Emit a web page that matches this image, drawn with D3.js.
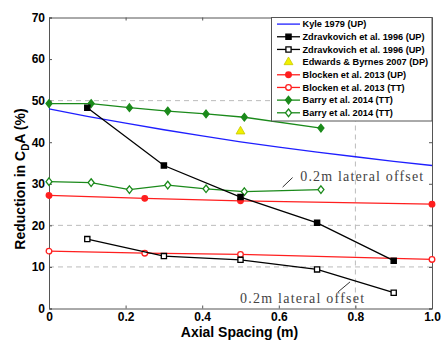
<!DOCTYPE html>
<html>
<head>
<meta charset="utf-8">
<script src="https://cdn.jsdelivr.net/npm/d3@7"></script>
<style>
  body { margin: 0; background: #fff; }
  svg { display: block; }
</style>
</head>
<body>
<div id="chart"></div>
<script>
// data
var kyleX = [0, 0.1, 0.2, 0.3, 0.4, 0.5, 0.6, 0.7, 0.8, 0.9, 1.0];
var kyleY = [48.0, 46.2, 44.6, 43.0, 41.5, 40.1, 38.8, 37.6, 36.5, 35.4, 34.4];

var zdravX = [0.1, 0.3, 0.5, 0.7, 0.9];
var zdravUP = [48.3, 34.4, 26.8, 20.6, 11.5];
var zdravOffset = [16.7, 12.6, 11.7, 9.4, 3.8];

var edwardsX = [0.5];
var edwardsY = [42.6];

var blockenX = [0, 0.25, 0.5, 1.0];
var blockenUP = [27.2, 26.5, 25.9, 25.1];
var blockenTT = [13.8, 13.3, 13.0, 11.8];

var barryX = [0, 0.11, 0.21, 0.31, 0.41, 0.51, 0.71];
var barryTT = [49.3, 49.3, 48.3, 47.5, 46.8, 46.0, 43.4];
var barryOffset = [30.5, 30.3, 28.6, 29.7, 28.8, 28.1, 28.6];

var xTicks = [0, 0.2, 0.4, 0.6, 0.8, 1.0];
var yTicks = [0, 10, 20, 30, 40, 50, 60, 70];
var gridY = [10, 20, 50];
var gridX = [0.8];

var legendLabels = ["Kyle 1979 (UP)", "Zdravkovich et al. 1996 (UP)", "Zdravkovich et al. 1996 (UP)",
  "Edwards & Byrnes 2007 (DP)", "Blocken et al. 2013 (UP)", "Blocken et al. 2013 (TT)",
  "Barry et al. 2014 (TT)", "Barry et al. 2014 (TT)"];

var W = 441, H = 341;
var margin = {top: 17.5, right: 9, bottom: 32.5, left: 49};
var width = W - margin.left - margin.right;
var height = H - margin.top - margin.bottom;

var blue = "#1f1fff", red = "#ff1f1f", green = "#1b8a1b", axisCol = "#555";

var svg = d3.select("#chart").append("svg")
  .attr("width", W).attr("height", H);
var g = svg.append("g")
  .attr("transform", "translate(" + margin.left + "," + margin.top + ")");

var x = d3.scaleLinear().domain([0, 1]).range([0, width]);
var y = d3.scaleLinear().domain([0, 70]).range([height, 0]);

// dashed grid
g.selectAll(".gy").data(gridY).enter().append("line")
  .attr("x1", 0).attr("x2", width)
  .attr("y1", d => y(d)).attr("y2", d => y(d))
  .attr("stroke", "#bbb").attr("stroke-dasharray", "5,4");
g.selectAll(".gx").data(gridX).enter().append("line")
  .attr("y1", 0).attr("y2", height)
  .attr("x1", d => x(d)).attr("x2", d => x(d))
  .attr("stroke", "#bbb").attr("stroke-dasharray", "5,4");

// axes, ticks inward on all four sides
var fontAx = "'Liberation Sans', Arial, sans-serif";
var xb = g.append("g").attr("transform", "translate(0," + height + ")")
  .call(d3.axisBottom(x).tickValues(xTicks).tickSize(-3).tickPadding(4)
    .tickFormat(d => d === 0 ? "0" : d3.format(".1f")(d)));
var yl = g.append("g")
  .call(d3.axisLeft(y).tickValues(yTicks).tickSize(-3).tickPadding(4));
var xt = g.append("g").call(d3.axisTop(x).tickValues(xTicks).tickSize(-3).tickFormat(""));
var yr = g.append("g").attr("transform", "translate(" + width + ",0)")
  .call(d3.axisRight(y).tickValues(yTicks).tickSize(-3).tickFormat(""));
[xb, yl, xt, yr].forEach(function(a) {
  a.select(".domain").attr("stroke", axisCol);
  a.selectAll(".tick line").attr("stroke", axisCol);
  a.selectAll("text").attr("font-family", fontAx).attr("font-weight", "bold")
    .attr("font-size", 12).attr("fill", "#000");
});

// marker shapes
function diamond(cx, cy) {
  return "M" + cx + "," + (cy - 3.8) + "L" + (cx + 3) + "," + cy + "L" + cx + "," + (cy + 3.8) +
    "L" + (cx - 3) + "," + cy + "Z";
}
function square(cx, cy) {
  return "M" + (cx - 2.6) + "," + (cy - 2.6) + "h5.2v5.2h-5.2Z";
}

function drawMarkers(pts, color, marker, filled, parent) {
  var p = parent || g;
  if (marker === "none") return;
  pts.forEach(function(d) {
    var el;
    if (marker === "circle") {
      el = p.append("circle").attr("cx", d[0]).attr("cy", d[1]).attr("r", 2.8);
    } else if (marker === "square") {
      el = p.append("path").attr("d", square(d[0], d[1]));
    } else if (marker === "diamond") {
      el = p.append("path").attr("d", diamond(d[0], d[1]));
    } else if (marker === "triangle") {
      el = p.append("path").attr("d", d3.symbol(d3.symbolTriangle, 34)())
        .attr("transform", "translate(" + d[0] + "," + d[1] + ")");
    }
    el.attr("fill", filled ? color : "#fff").attr("stroke", color).attr("stroke-width", 1.3);
    if (marker === "triangle") el.attr("fill", "#f0f000").attr("stroke", "#c8c800").attr("stroke-width", 0.8);
  });
}

function series(xs, ys, color, marker, filled) {
  var pts = xs.map((d, i) => [d, ys[i]]);
  var line = d3.line().x(d => x(d[0])).y(d => y(d[1]));
  g.append("path").datum(pts).attr("d", line)
    .attr("fill", "none").attr("stroke", color).attr("stroke-width", 1.3);
  drawMarkers(pts.map(d => [x(d[0]), y(d[1])]), color, marker, filled);
}

series(kyleX, kyleY, blue, "none", true);
series(blockenX, blockenUP, red, "circle", true);
series(blockenX, blockenTT, red, "circle", false);
series(barryX, barryOffset, green, "diamond", false);
series(barryX, barryTT, green, "diamond", true);
series(zdravX, zdravOffset, "#000", "square", false);
series(zdravX, zdravUP, "#000", "square", true);
drawMarkers(edwardsX.map((d, i) => [x(d), y(edwardsY[i])]), "#f0f000", "triangle", true);

// annotations
var serif = "'Liberation Serif', 'Times New Roman', serif";
g.append("text").attr("x", x(0.656)).attr("y", y(30.7))
  .attr("font-family", serif).attr("font-size", 14).attr("fill", "#444")
  .attr("textLength", 123).attr("lengthAdjust", "spacing").text("0.2m lateral offset");
g.append("line").attr("x1", x(0.61)).attr("y1", y(29.2)).attr("x2", x(0.636)).attr("y2", y(31.5))
  .attr("stroke", "#333").attr("stroke-width", 1);
g.append("text").attr("x", x(0.499)).attr("y", y(1.3))
  .attr("font-family", serif).attr("font-size", 14).attr("fill", "#444")
  .attr("textLength", 124).attr("lengthAdjust", "spacing").text("0.2m lateral offset");
g.append("line").attr("x1", x(0.755)).attr("y1", y(4.0)).attr("x2", x(0.786)).attr("y2", y(6.4))
  .attr("stroke", "#333").attr("stroke-width", 1);

// legend
var lgX = 271.5 - margin.left, lgW = width - lgX, lgH = 103.5;
var lg = g.append("g");
lg.append("rect").attr("x", lgX).attr("y", 0).attr("width", lgW).attr("height", lgH)
  .attr("fill", "#fff").attr("stroke", axisCol);
var legendStyle = [
  {c: blue, m: "none", f: true, line: true},
  {c: "#000", m: "square", f: true, line: true},
  {c: "#000", m: "square", f: false, line: true},
  {c: "#f0f000", m: "triangle", f: true, line: false},
  {c: red, m: "circle", f: true, line: true},
  {c: red, m: "circle", f: false, line: true},
  {c: green, m: "diamond", f: true, line: true},
  {c: green, m: "diamond", f: false, line: true}
];
legendLabels.forEach(function(lab, i) {
  var cy = 6.6 + i * 12.67;
  var s = legendStyle[i];
  var x0 = lgX + 5.5, x1 = lgX + 28.5, xm = (x0 + x1) / 2;
  if (s.line) lg.append("line").attr("x1", x0).attr("x2", x1).attr("y1", cy).attr("y2", cy)
    .attr("stroke", s.c).attr("stroke-width", 1.3);
  drawMarkers([[xm, cy]], s.c, s.m, s.f, lg);
  lg.append("text").attr("x", lgX + 31).attr("y", cy + 3.3)
    .attr("font-family", fontAx).attr("font-weight", "bold").attr("font-size", 9.2)
    .attr("fill", "#000").text(lab);
});

// axis titles
svg.append("text").attr("x", margin.left + width / 2 - 1).attr("y", 336.5)
  .attr("text-anchor", "middle").attr("font-family", fontAx).attr("font-weight", "bold")
  .attr("font-size", 14).text("Axial Spacing (m)");
var yt = svg.append("text").attr("transform", "translate(25,179) rotate(-90)")
  .attr("text-anchor", "middle").attr("font-family", fontAx).attr("font-weight", "bold")
  .attr("font-size", 14);
yt.append("tspan").text("Reduction in C");
yt.append("tspan").attr("font-size", 10).attr("dy", 4).text("D");
yt.append("tspan").attr("dy", -4).text("A (%)");
</script>
</body>
</html>
